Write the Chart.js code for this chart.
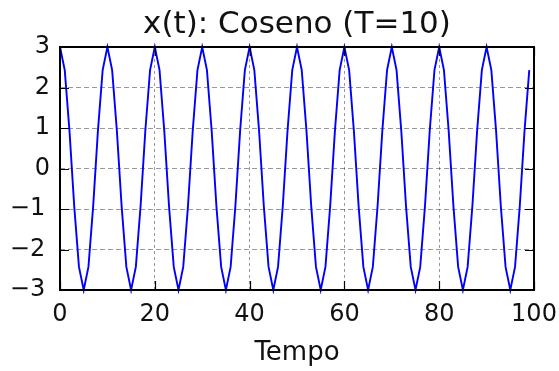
<!DOCTYPE html>
<html>
<head>
<meta charset="utf-8">
<script src="https://cdn.jsdelivr.net/npm/chart.js@4/dist/chart.umd.min.js"></script>
<style>
html,body{margin:0;padding:0;background:#fff;}
#wrap{width:559px;height:371px;position:relative;}
</style>
</head>
<body>
<div id="wrap"><canvas id="c" width="559" height="371"></canvas></div>
<script>
const chartTitle = "x(t): Coseno (T=10)";
const xLabel = "Tempo";
const tempo = [
  0,1,2,3,4,5,6,7,8,9,
  10,11,12,13,14,15,16,17,18,19,
  20,21,22,23,24,25,26,27,28,29,
  30,31,32,33,34,35,36,37,38,39,
  40,41,42,43,44,45,46,47,48,49,
  50,51,52,53,54,55,56,57,58,59,
  60,61,62,63,64,65,66,67,68,69,
  70,71,72,73,74,75,76,77,78,79,
  80,81,82,83,84,85,86,87,88,89,
  90,91,92,93,94,95,96,97,98,99
];
const xt = [
  3,2.43,0.93,-0.93,-2.43,-3,-2.43,-0.93,0.93,2.43,
  3,2.43,0.93,-0.93,-2.43,-3,-2.43,-0.93,0.93,2.43,
  3,2.43,0.93,-0.93,-2.43,-3,-2.43,-0.93,0.93,2.43,
  3,2.43,0.93,-0.93,-2.43,-3,-2.43,-0.93,0.93,2.43,
  3,2.43,0.93,-0.93,-2.43,-3,-2.43,-0.93,0.93,2.43,
  3,2.43,0.93,-0.93,-2.43,-3,-2.43,-0.93,0.93,2.43,
  3,2.43,0.93,-0.93,-2.43,-3,-2.43,-0.93,0.93,2.43,
  3,2.43,0.93,-0.93,-2.43,-3,-2.43,-0.93,0.93,2.43,
  3,2.43,0.93,-0.93,-2.43,-3,-2.43,-0.93,0.93,2.43,
  3,2.43,0.93,-0.93,-2.43,-3,-2.43,-0.93,0.93,2.43
];
const xTicks = [0,20,40,60,80,100];
const yTicks = [-3,-2,-1,0,1,2,3];
const yTickLabels = ["\u22123\u2009","\u22122\u2009","\u22121\u2009","0","1","2","3"];

const FONT = "'DejaVu Sans', sans-serif";

const frameAndTicks = {
  id: 'frameAndTicks',
  afterDatasetsDraw(chart) {
    const {ctx, chartArea: a} = chart;
    const xs = chart.scales.x, ys = chart.scales.y;
    ctx.save();
    ctx.strokeStyle = '#000';
    ctx.lineWidth = 1.2;
    const L = 9;
    ctx.beginPath();
    xTicks.forEach(v => {
      const p = Math.round(xs.getPixelForValue(v)) + 0.5;
      ctx.moveTo(p, a.bottom); ctx.lineTo(p, a.bottom - L);
      ctx.moveTo(p, a.top); ctx.lineTo(p, a.top + L);
    });
    yTicks.forEach(v => {
      const p = Math.round(ys.getPixelForValue(v)) + 0.5;
      ctx.moveTo(a.left, p); ctx.lineTo(a.left + L, p);
      ctx.moveTo(a.right, p); ctx.lineTo(a.right - L, p);
    });
    ctx.stroke();
    ctx.lineWidth = 2;
    ctx.strokeRect(a.left, a.top, a.right - a.left, a.bottom - a.top);
    ctx.restore();
  }
};

new Chart(document.getElementById('c'), {
  type: 'line',
  data: {
    datasets: [{
      data: tempo.map((t, i) => ({x: t, y: xt[i]})),
      borderColor: '#0000ff',
      borderWidth: 1.9,
      pointRadius: 0,
      tension: 0,
      fill: false,
      clip: 4
    }]
  },
  options: {
    responsive: false,
    animation: false,
    devicePixelRatio: 1,
    layout: {padding: {left: 0, right: 25, top: 0, bottom: 0}},
    plugins: {legend: {display: false}, tooltip: {enabled: false}, title: {display: false}},
    scales: {
      x: {
        type: 'linear', position: 'bottom', min: 0, max: 100,
        afterBuildTicks: s => { s.ticks = xTicks.map(v => ({value: v})); },
        afterFit: s => { s.height = 81; s.paddingLeft = 0; s.paddingRight = 0; },
        ticks: {font: {family: FONT, size: 24}, color: '#111', padding: 10, maxRotation: 0},
        grid: {color: 'rgba(0,0,0,0.4)', lineWidth: 1, drawTicks: false},
        border: {display: false, dash: [3, 3]},
        title: {display: true, text: xLabel, font: {family: FONT, size: 26}, color: '#111', padding: {top: 0, bottom: 2}}
      },
      x2: {
        type: 'linear', position: 'top', min: 0, max: 100,
        afterFit: s => { s.height = 47; s.paddingLeft = 0; s.paddingRight = 0; },
        ticks: {display: false},
        grid: {display: false, drawTicks: false},
        border: {display: false},
        title: {display: true, text: chartTitle, font: {family: FONT, size: 31}, color: '#111', padding: {top: 6, bottom: 0}}
      },
      y: {
        type: 'linear', min: -3, max: 3,
        afterBuildTicks: s => { s.ticks = yTicks.map(v => ({value: v})); },
        afterFit: s => { s.width = 60; s.paddingTop = 0; s.paddingBottom = 0; },
        ticks: {
          font: {family: FONT, size: 24}, color: '#111', padding: 10,
          callback: (v) => yTickLabels[yTicks.indexOf(v)]
        },
        grid: {color: 'rgba(0,0,0,0.4)', lineWidth: 1, drawTicks: false},
        border: {display: false, dash: [5, 3]}
      }
    }
  },
  plugins: [frameAndTicks]
});
</script>
</body>
</html>
